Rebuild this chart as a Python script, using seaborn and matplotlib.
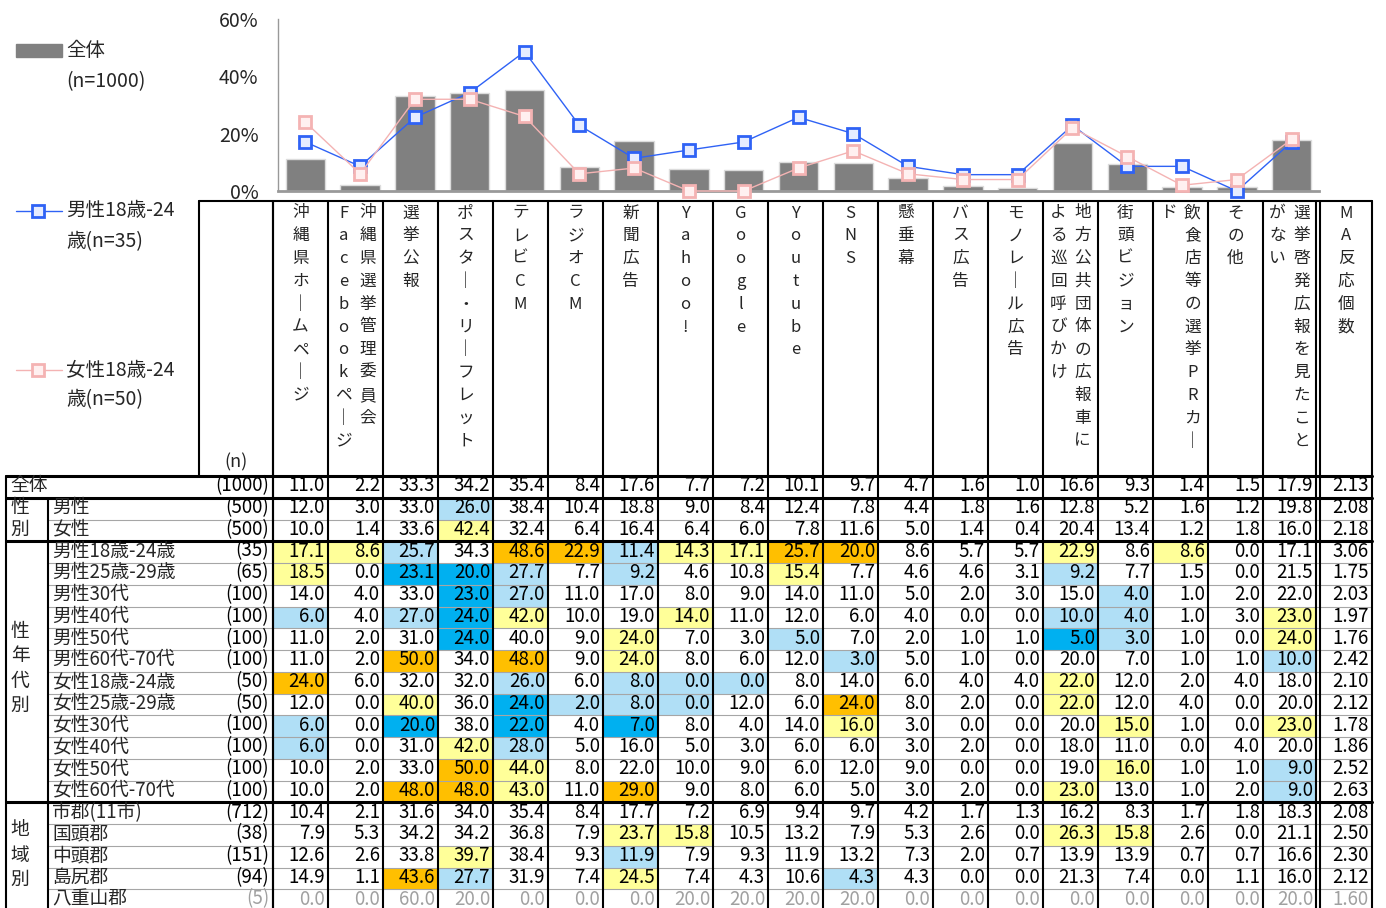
import numpy as np
import matplotlib
matplotlib.use('Agg')
import matplotlib.pyplot as plt
import seaborn as sns
from matplotlib.patches import Rectangle
from matplotlib.lines import Line2D

sns.set_style("white")
plt.rcParams['font.family'] = ['Noto Sans CJK JP', 'DejaVu Sans']

# ---- data ----
categories = ['沖縄県ホームページ', '沖縄県選挙管理委員会Facebookページ', '選挙公報',
              'ポスター・リーフレット', 'テレビCM', 'ラジオCM', '新聞広告', 'Yahoo!', 'Google',
              'Youtube', 'SNS', '懸垂幕', 'バス広告', 'モノレール広告',
              '地方公共団体の広報車による巡回呼びかけ', '街頭ビジョン', '飲食店等の選挙PRカード',
              'その他', '選挙啓発広報を見たことがない', 'MA反応個数']
# header text split into vertical columns (right column first)
header_cols = [['沖縄県ホームページ'], ['沖縄県選挙管理委員会', 'Facebookページ'], ['選挙公報'],
               ['ポスター・リーフレット'], ['テレビCM'], ['ラジオCM'], ['新聞広告'], ['Yahoo!'],
               ['Google'], ['Youtube'], ['SNS'], ['懸垂幕'], ['バス広告'], ['モノレール広告'],
               ['地方公共団体の広報車に', 'よる巡回呼びかけ'], ['街頭ビジョン'],
               ['飲食店等の選挙PRカー', 'ド'], ['その他'], ['選挙啓発広報を見たこと', 'がない'],
               ['MA反応個数']]

overall_n = 1000
overall_vals = [11.0, 2.2, 33.3, 34.2, 35.4, 8.4, 17.6, 7.7, 7.2, 10.1, 9.7, 4.7, 1.6, 1.0, 16.6, 9.3, 1.4, 1.5, 17.9, 2.13]

gender_labels = ['男性', '女性']
gender_n = [500, 500]
gender_vals = [
    [12.0, 3.0, 33.0, 26.0, 38.4, 10.4, 18.8, 9.0, 8.4, 12.4, 7.8, 4.4, 1.8, 1.6, 12.8, 5.2, 1.6, 1.2, 19.8, 2.08],
    [10.0, 1.4, 33.6, 42.4, 32.4, 6.4, 16.4, 6.4, 6.0, 7.8, 11.6, 5.0, 1.4, 0.4, 20.4, 13.4, 1.2, 1.8, 16.0, 2.18],
]

sexage_labels = ['男性18歳-24歳', '男性25歳-29歳', '男性30代', '男性40代', '男性50代', '男性60代-70代',
                 '女性18歳-24歳', '女性25歳-29歳', '女性30代', '女性40代', '女性50代', '女性60代-70代']
sexage_n = [35, 65, 100, 100, 100, 100, 50, 50, 100, 100, 100, 100]
sexage_vals = [
    [17.1, 8.6, 25.7, 34.3, 48.6, 22.9, 11.4, 14.3, 17.1, 25.7, 20.0, 8.6, 5.7, 5.7, 22.9, 8.6, 8.6, 0.0, 17.1, 3.06],
    [18.5, 0.0, 23.1, 20.0, 27.7, 7.7, 9.2, 4.6, 10.8, 15.4, 7.7, 4.6, 4.6, 3.1, 9.2, 7.7, 1.5, 0.0, 21.5, 1.75],
    [14.0, 4.0, 33.0, 23.0, 27.0, 11.0, 17.0, 8.0, 9.0, 14.0, 11.0, 5.0, 2.0, 3.0, 15.0, 4.0, 1.0, 2.0, 22.0, 2.03],
    [6.0, 4.0, 27.0, 24.0, 42.0, 10.0, 19.0, 14.0, 11.0, 12.0, 6.0, 4.0, 0.0, 0.0, 10.0, 4.0, 1.0, 3.0, 23.0, 1.97],
    [11.0, 2.0, 31.0, 24.0, 40.0, 9.0, 24.0, 7.0, 3.0, 5.0, 7.0, 2.0, 1.0, 1.0, 5.0, 3.0, 1.0, 0.0, 24.0, 1.76],
    [11.0, 2.0, 50.0, 34.0, 48.0, 9.0, 24.0, 8.0, 6.0, 12.0, 3.0, 5.0, 1.0, 0.0, 20.0, 7.0, 1.0, 1.0, 10.0, 2.42],
    [24.0, 6.0, 32.0, 32.0, 26.0, 6.0, 8.0, 0.0, 0.0, 8.0, 14.0, 6.0, 4.0, 4.0, 22.0, 12.0, 2.0, 4.0, 18.0, 2.10],
    [12.0, 0.0, 40.0, 36.0, 24.0, 2.0, 8.0, 0.0, 12.0, 6.0, 24.0, 8.0, 2.0, 0.0, 22.0, 12.0, 4.0, 0.0, 20.0, 2.12],
    [6.0, 0.0, 20.0, 38.0, 22.0, 4.0, 7.0, 8.0, 4.0, 14.0, 16.0, 3.0, 0.0, 0.0, 20.0, 15.0, 1.0, 0.0, 23.0, 1.78],
    [6.0, 0.0, 31.0, 42.0, 28.0, 5.0, 16.0, 5.0, 3.0, 6.0, 6.0, 3.0, 2.0, 0.0, 18.0, 11.0, 0.0, 4.0, 20.0, 1.86],
    [10.0, 2.0, 33.0, 50.0, 44.0, 8.0, 22.0, 10.0, 9.0, 6.0, 12.0, 9.0, 0.0, 0.0, 19.0, 16.0, 1.0, 1.0, 9.0, 2.52],
    [10.0, 2.0, 48.0, 48.0, 43.0, 11.0, 29.0, 9.0, 8.0, 6.0, 5.0, 3.0, 2.0, 0.0, 23.0, 13.0, 1.0, 2.0, 9.0, 2.63],
]

region_labels = ['市郡(11市)', '国頭郡', '中頭郡', '島尻郡', '八重山郡']
region_n = [712, 38, 151, 94, 5]
region_vals = [
    [10.4, 2.1, 31.6, 34.0, 35.4, 8.4, 17.7, 7.2, 6.9, 9.4, 9.7, 4.2, 1.7, 1.3, 16.2, 8.3, 1.7, 1.8, 18.3, 2.08],
    [7.9, 5.3, 34.2, 34.2, 36.8, 7.9, 23.7, 15.8, 10.5, 13.2, 7.9, 5.3, 2.6, 0.0, 26.3, 15.8, 2.6, 0.0, 21.1, 2.50],
    [12.6, 2.6, 33.8, 39.7, 38.4, 9.3, 11.9, 7.9, 9.3, 11.9, 13.2, 7.3, 2.0, 0.7, 13.9, 13.9, 0.7, 0.7, 16.6, 2.30],
    [14.9, 1.1, 43.6, 27.7, 31.9, 7.4, 24.5, 7.4, 4.3, 10.6, 4.3, 4.3, 0.0, 0.0, 21.3, 7.4, 0.0, 1.1, 16.0, 2.12],
    [0.0, 0.0, 60.0, 20.0, 0.0, 0.0, 0.0, 20.0, 20.0, 20.0, 20.0, 0.0, 0.0, 0.0, 0.0, 0.0, 0.0, 0.0, 20.0, 1.60],
]

n_cat = 19  # chart uses all columns except MA
male_1824 = sexage_vals[0][:n_cat]
female_1824 = sexage_vals[6][:n_cat]

BAR = '#808080'
BLUE = '#2f62f5'
PINK = '#f4b3b3'
ORANGE = '#ffbf00'
YELLOW = '#ffff99'
LBLUE = '#b0dff6'
DBLUE = '#00b0f0'
FS = 13.5

W, H = 1386, 908
fig = plt.figure(figsize=(W / 100, H / 100), dpi=100)

# full-figure pixel axes for table / legend
tab = fig.add_axes([0, 0, 1, 1], zorder=0)
tab.set_xlim(0, W)
tab.set_ylim(H, 0)
tab.axis('off')

# ---- chart ----
ax = fig.add_axes([278 / W, (H - 191) / H, 1041 / W, 172 / H], zorder=2)
ax.patch.set_alpha(0)
sns.barplot(x=categories[:n_cat], y=overall_vals[:n_cat], color=BAR, saturation=1,
            width=0.72, edgecolor='#dcdcdc', linewidth=1, ax=ax)
sns.lineplot(x=np.arange(n_cat), y=male_1824, color=BLUE, lw=1, marker='s', markersize=9,
             markerfacecolor='#e6ecff', markeredgecolor=BLUE, markeredgewidth=2,
             clip_on=False, ax=ax, zorder=3)
sns.lineplot(x=np.arange(n_cat), y=female_1824, color=PINK, lw=1, marker='s', markersize=9,
             markerfacecolor='#fff0f0', markeredgecolor=PINK, markeredgewidth=2,
             clip_on=False, ax=ax, zorder=4)
ax.set_xlim(-0.5, n_cat - 0.5)
ax.set_ylim(0, 60)
ax.set_xticks(np.arange(-0.5, n_cat, 1))
ax.set_xticklabels([])
ax.set_yticks([0, 20, 40, 60])
ax.set_yticklabels(['0%', '20%', '40%', '60%'], fontsize=14)
ax.set_xlabel('')
ax.set_ylabel('')
ax.tick_params(axis='x', direction='in', length=5, color='#888888', width=1.2)
ax.tick_params(axis='y', direction='in', length=4, color='#888888', pad=14)
for s in ['top', 'right']:
    ax.spines[s].set_visible(False)
for s in ['left', 'bottom']:
    ax.spines[s].set_color('#999999')
ax.spines['bottom'].set_linewidth(2)
ax.spines['left'].set_linewidth(1)

# ---- legend on the left ----
tab.add_patch(Rectangle((16, 44), 46, 13, color=BAR))
tab.text(66, 50, '全体', fontsize=14, va='center')
tab.text(66, 82, '(n=1000)', fontsize=14, va='center')
tab.add_line(Line2D([16, 62], [211, 211], color=BLUE, lw=1))
tab.plot([38], [211], marker='s', ms=9, mfc='#e6ecff', mec=BLUE, mew=2)
tab.text(66, 211, '男性18歳-24', fontsize=14, va='center')
tab.text(66, 242, '歳(n=35)', fontsize=14, va='center')
tab.add_line(Line2D([16, 62], [370, 370], color=PINK, lw=1))
tab.plot([38], [370], marker='s', ms=9, mfc='#fff0f0', mec=PINK, mew=2)
tab.text(66, 370, '女性18歳-24', fontsize=14, va='center')
tab.text(66, 400, '歳(n=50)', fontsize=14, va='center')

# ---- table geometry ----
x_left, x_grp, x_lab, x_n = 6, 48, 199, 273
cw = 55
col_l = [x_n + cw * i for i in range(n_cat)] + [1320]
col_r = [x_n + cw * (i + 1) for i in range(n_cat - 1)] + [1316, 1372]
x_right = 1372
head_top, body_top, rh = 201, 476, 21.75
ty = -1  # nudge text up inside the cells

all_labels = ['全体'] + gender_labels + sexage_labels + region_labels
all_n = [overall_n] + gender_n + sexage_n + region_n
all_vals = [overall_vals] + gender_vals + sexage_vals + region_vals
n_rows = len(all_labels)
body_bot = body_top + rh * n_rows


def cell_color(v, base):
    d = round(v - base, 1)
    if d >= 10:
        return ORANGE
    if d >= 5:
        return YELLOW
    if d <= -10:
        return DBLUE
    if d <= -5:
        return LBLUE
    return None


# header
tab.add_line(Line2D([x_lab, x_right], [head_top, head_top], color='black', lw=1.5))
for x in [x_lab, x_n] + col_l[:n_cat] + [1316, 1320, x_right]:
    tab.add_line(Line2D([x, x], [head_top, body_top], color='black', lw=1.5))
tab.text((x_lab + x_n) / 2, 462, '(n)', fontsize=13, ha='center', va='center')
for i, cols in enumerate(header_cols):
    cx = (col_l[i] + col_r[i]) / 2
    if len(cols) == 1:
        xs = [cx]
    else:
        xs = [cx + 12, cx - 12]
    for txt, xx in zip(cols, xs):
        for k, ch in enumerate(txt):
            if ch == 'ー':
                ch = '｜'
            tab.text(xx, 213 + 22.8 * k, ch, fontsize=12, ha='center', va='center')

# body cells
for r in range(n_rows):
    yt = body_top + rh * r
    yc = yt + rh / 2 + ty
    grey = all_n[r] < 30
    tc = '#a0a0a0' if grey else 'black'
    if r == 0:
        tab.text(x_left + 4, yc, all_labels[r], fontsize=FS, va='center')
    else:
        tab.text(x_grp + 4, yc, all_labels[r], fontsize=FS, va='center')
    tab.text(x_n - 4, yc, f'({all_n[r]})', fontsize=FS, ha='right', va='center', color=tc)
    for c, v in enumerate(all_vals[r]):
        if r > 0 and not grey and c < n_cat:
            fc = cell_color(v, overall_vals[c])
            if fc:
                tab.add_patch(Rectangle((col_l[c] + 1, yt + 1), col_r[c] - col_l[c] - 2, rh - 2,
                                        color=fc, zorder=0.5))
        s = f'{v:.2f}' if c == n_cat else f'{v:.1f}'
        tab.text(col_r[c] - 3, yc, s, fontsize=FS, ha='right', va='center', color=tc)
    # thin row separators
    if r > 0:
        tab.add_line(Line2D([x_grp, x_right], [yt, yt], color='#a6a6a6', lw=0.8))

# thick horizontal lines
for k in [0, 1, 3, 15]:
    y = body_top + rh * k
    tab.add_line(Line2D([x_left, x_right], [y, y], color='black', lw=2.2))

# vertical lines in body
for x in [x_left, x_n] + col_l[:n_cat] + [1316, 1320, x_right]:
    tab.add_line(Line2D([x, x], [body_top, body_bot], color='black', lw=1.5))
tab.add_line(Line2D([x_grp, x_grp], [body_top + rh, body_bot], color='black', lw=1.5))

# group labels
for ch, y in zip('性別', [507, 529]):
    tab.text(20, y, ch, fontsize=FS, ha='center', va='center')
for ch, y in zip('性年代別', [632, 656, 681, 705]):
    tab.text(20, y, ch, fontsize=FS, ha='center', va='center')
for ch, y in zip('地域別', [830, 855, 879]):
    tab.text(20, y, ch, fontsize=FS, ha='center', va='center')

fig.savefig('out.png', dpi=100)
